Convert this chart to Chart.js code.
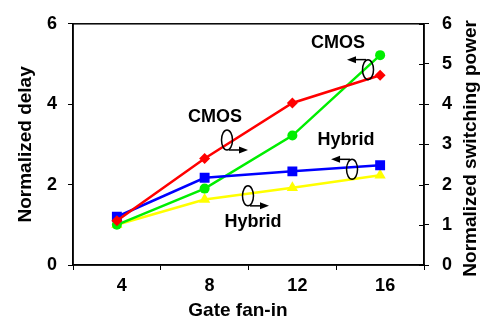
<!DOCTYPE html>
<html>
<head>
<meta charset="utf-8">
<script src="https://cdn.jsdelivr.net/npm/chart.js@4.4.0/dist/chart.umd.min.js"></script>
<style>
  html, body { margin: 0; padding: 0; background: #fff; }
  #wrap { width: 481px; height: 320px; }
</style>
</head>
<body>
<div id="wrap"><canvas id="chart" width="481" height="320"></canvas></div>
<script>
// Data
const fanIn = ['4', '8', '12', '16'];
const cmosDelay = [1.1, 2.65, 4.03, 4.72];
const hybridDelay = [1.2, 2.17, 2.33, 2.48];
const cmosPower = [1.0, 1.9, 3.22, 5.22];
const hybridPower = [1.0, 1.63, 1.92, 2.23];
const leftTicks = [0, 2, 4, 6];
const rightTicks = [0, 1, 2, 3, 4, 5, 6];
const rightTitle = 'Normalized switching power';

// Annotations: label + ellipse + arrow, positioned in data units (category index, value)
const annoText = ['CMOS', 'CMOS', 'Hybrid', 'Hybrid'];
const annoTextX = [1.118, 2.52, 2.611, 1.551];
const annoTextY = [3.69, 5.51, 3.11, 1.07];
const annoEllX = [1.255, 2.862, 2.68, 1.494];
const annoEllY = [3.11, 4.86, 2.38, 1.72];
const annoDir = [1, -1, -1, 1];          // arrow points right (1) or left (-1)
const annoArrowAt = ['bottom', 'top', 'top', 'bottom'];

const FONT = '"Liberation Sans", Arial, sans-serif';

const annotate = {
    id: 'annotate',
    afterDatasetsDraw(chart) {
        const {ctx, chartArea, scales} = chart;
        const x = scales.x, y = scales.y, y1 = scales.y1;
        ctx.save();
        // frame
        ctx.strokeStyle = '#000';
        ctx.lineWidth = 1.5;
        ctx.strokeRect(chartArea.left, chartArea.top, chartArea.right - chartArea.left, chartArea.bottom - chartArea.top);
        // inner half of the right axis crosses
        ctx.lineWidth = 1;
        rightTicks.forEach(v => {
            const py = Math.round(y1.getPixelForValue(v)) + 0.5;
            ctx.beginPath();
            ctx.moveTo(chartArea.right - 5, py);
            ctx.lineTo(chartArea.right, py);
            ctx.stroke();
        });
        // right axis title, reading bottom to top
        ctx.fillStyle = '#000';
        ctx.font = 'bold 19px ' + FONT;
        ctx.textAlign = 'center';
        ctx.textBaseline = 'middle';
        ctx.save();
        ctx.translate(y1.right - 10, (chartArea.top + chartArea.bottom) / 2 + 4);
        ctx.rotate(-Math.PI / 2);
        ctx.fillText(rightTitle, 0, 0);
        ctx.restore();
        // labels, ellipses, arrows
        ctx.font = 'bold 18px ' + FONT;
        for (let i = 0; i < annoText.length; i++) {
            ctx.fillText(annoText[i], x.getPixelForValue(annoTextX[i]), y.getPixelForValue(annoTextY[i]));
            const ex = x.getPixelForValue(annoEllX[i]);
            const ey = y.getPixelForValue(annoEllY[i]);
            const rx = 5.5, ry = 10;
            ctx.lineWidth = 1.5;
            ctx.beginPath();
            ctx.ellipse(ex, ey, rx, ry, 0, 0, Math.PI * 2);
            ctx.stroke();
            const ay = annoArrowAt[i] === 'top' ? ey - ry : ey + ry;
            const x0 = ex + annoDir[i] * 2;
            const x1 = ex + annoDir[i] * 21;
            ctx.beginPath();
            ctx.moveTo(x0, ay);
            ctx.lineTo(x1 - annoDir[i] * 6, ay);
            ctx.stroke();
            ctx.beginPath();
            ctx.moveTo(x1, ay);
            ctx.lineTo(x1 - annoDir[i] * 9, ay - 3.5);
            ctx.lineTo(x1 - annoDir[i] * 9, ay + 3.5);
            ctx.closePath();
            ctx.fill();
        }
        ctx.restore();
    }
};

function series(label, data, color, style, radius, axis) {
    return {
        label, data, yAxisID: axis,
        borderColor: color, backgroundColor: color,
        borderWidth: 2.5, pointStyle: style, pointRadius: radius, pointHoverRadius: radius,
        pointBorderWidth: 0, tension: 0
    };
}

new Chart(document.getElementById('chart'), {
    type: 'line',
    data: {
        labels: fanIn,
        datasets: [
            series('CMOS delay', cmosDelay, '#ff0000', 'rectRot', 5.5, 'y'),
            series('Hybrid delay', hybridDelay, '#0000ff', 'rect', 7, 'y'),
            series('CMOS power', cmosPower, '#00ee00', 'circle', 5, 'y1'),
            series('Hybrid power', hybridPower, '#ffff00', 'triangle', 6.5, 'y1')
        ]
    },
    options: {
        responsive: false,
        animation: false,
        layout: {padding: {top: 18, left: 0, right: 0, bottom: 0}},
        plugins: {legend: {display: false}, tooltip: {enabled: false}},
        scales: {
            x: {
                offset: true,
                grid: {offset: true, drawOnChartArea: false, tickLength: 5, color: '#000', lineWidth: 1},
                border: {color: '#000', width: 1.5},
                ticks: {color: '#000', font: {family: FONT, size: 18, weight: 'bold'}, padding: 5, labelOffset: 5},
                title: {display: true, text: 'Gate fan-in    ', color: '#000',
                    font: {family: FONT, size: 19, weight: 'bold', lineHeight: 1}, padding: {top: 0, bottom: 0}},
                afterFit(s) { s.height = 55; }
            },
            y: {
                position: 'left', min: 0, max: 6,
                afterBuildTicks(s) { s.ticks = leftTicks.map(v => ({value: v})); },
                grid: {drawOnChartArea: false, tickLength: 5, color: '#000', lineWidth: 1},
                border: {color: '#000', width: 1.5},
                ticks: {color: '#000', font: {family: FONT, size: 18, weight: 'bold'}, padding: 11},
                title: {display: true, text: 'Normalized delay', color: '#000',
                    font: {family: FONT, size: 19, weight: 'bold', lineHeight: 1}, padding: {top: 16, bottom: 0}},
                afterFit(s) { s.width = 73; }
            },
            y1: {
                position: 'right', min: 0, max: 6,
                afterBuildTicks(s) { s.ticks = rightTicks.map(v => ({value: v})); },
                grid: {drawOnChartArea: false, tickLength: 5, color: '#000', lineWidth: 1},
                border: {color: '#000', width: 1.5},
                ticks: {color: '#000', font: {family: FONT, size: 18, weight: 'bold'}, padding: 13},
                afterFit(s) { s.width = 57; }
            }
        }
    },
    plugins: [annotate]
});
</script>
</body>
</html>
